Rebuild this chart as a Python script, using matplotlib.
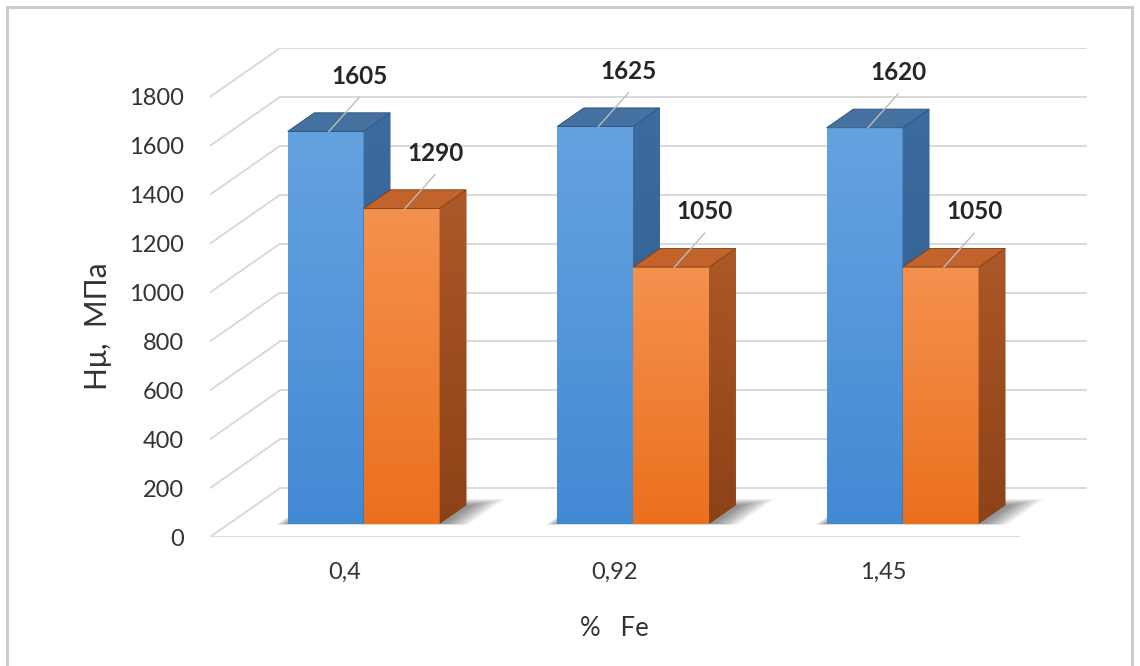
import numpy as np
import matplotlib
matplotlib.use("Agg")
import matplotlib.pyplot as plt
from matplotlib.patches import Polygon, Rectangle
from matplotlib.colors import LinearSegmentedColormap

# ---- data -------------------------------------------------------------
categories = ["0,4", "0,92", "1,45"]
series_a = [1605, 1625, 1620]
series_b = [1290, 1050, 1050]
y_ticks = [0, 200, 400, 600, 800, 1000, 1200, 1400, 1600, 1800]
y_label = "Hμ,  МПа"
x_label = "%   Fe"

# ---- look -------------------------------------------------------------
plt.rcParams["font.family"] = ["Lato", "Open Sans", "DejaVu Sans"]

DX = 0.26      # horizontal shift of the full floor depth (category units)
DV = 200.0     # vertical shift of the full floor depth (value units)
F0, F1 = 0.27, 0.65   # depth span occupied by the columns
W = 0.282      # column width

GRID = "#d9d9d9"
TXT = "#333333"

styles = [
    dict(front=("#4289d4", "#65a3e0"), side=("#2c5a8c", "#3c6c9f"), top="#44719f",
         edge="#2a4f78"),
    dict(front=("#eb701d", "#f4914f"), side=("#8c4217", "#ad5828"), top="#c2632c",
         edge="#7a3a12"),
]


def proj(x, v, f):
    """Oblique projection of a point at depth fraction f onto the axes."""
    return (x + f * DX, v + f * DV)


fig = plt.figure(figsize=(11.4, 6.66), dpi=100)
ax = fig.add_axes([210 / 1140, (666 - 537) / 666, 877 / 1140, 489 / 666])
ax.set_facecolor("none")
for s in ax.spines.values():
    s.set_visible(False)

n = len(categories)
x_pos = np.arange(n)

# back wall and side wall gridlines, floor edge
for t in y_ticks:
    ax.plot([-0.5, -0.5 + DX], [t, t + DV], color=GRID, lw=1.4, zorder=1)
    ax.plot([-0.5 + DX, n - 0.5 + DX], [t + DV, t + DV], color=GRID, lw=1.4, zorder=1)
ax.plot([-0.5, n - 0.5], [0, 0], color=GRID, lw=1.4, zorder=1)

grad = np.linspace(0, 1, 256).reshape(-1, 1)

# soft floor shadow under each pair of columns
for i in range(n):
    gl = x_pos[i] - W
    gr = x_pos[i] + W
    for k in range(14):
        e = 0.005 * k
        shadow = Polygon([proj(gl - e * 0.6, 0, F0 - e * 0.3),
                          proj(gr + 0.02 + e * 1.4, 0, F0 - e * 0.3),
                          proj(gr + 0.02 + e * 1.4, 0, F1 + e * 2.0),
                          proj(gl - e * 0.6, 0, F1 + e * 2.0)],
                         closed=True, facecolor="black", edgecolor="none",
                         alpha=0.035, zorder=2)
        ax.add_patch(shadow)

# columns
for i in range(n):
    for s_idx, (vals, off) in enumerate([(series_a, -W), (series_b, 0.0)]):
        st = styles[s_idx]
        v = vals[i]
        xl = x_pos[i] + off
        xr = xl + W
        z = 4 + i * 0.1 + s_idx * 0.05

        bar = ax.bar(xl + F0 * DX, v, width=W, bottom=F0 * DV, align="edge",
                     color=st["front"][0], edgecolor="none", zorder=z)[0]
        cm_front = LinearSegmentedColormap.from_list("f", list(st["front"]))
        im = ax.imshow(grad, extent=(xl + F0 * DX, xr + F0 * DX, F0 * DV, F0 * DV + v),
                       origin="lower", cmap=cm_front, aspect="auto", zorder=z,
                       interpolation="bilinear")
        im.set_clip_path(bar)

        side = Polygon([proj(xr, 0, F0), proj(xr, 0, F1), proj(xr, v, F1), proj(xr, v, F0)],
                       closed=True, facecolor=st["side"][0], edgecolor="none", zorder=z)
        ax.add_patch(side)
        cm_side = LinearSegmentedColormap.from_list("s", list(st["side"]))
        sx0, _ = proj(xr, 0, F0)
        sx1, _ = proj(xr, 0, F1)
        im2 = ax.imshow(grad, extent=(sx0, sx1, F0 * DV, F1 * DV + v), origin="lower",
                        cmap=cm_side, aspect="auto", zorder=z, interpolation="bilinear")
        im2.set_clip_path(side)

        top = Polygon([proj(xl, v, F0), proj(xr, v, F0), proj(xr, v, F1), proj(xl, v, F1)],
                      closed=True, facecolor=st["top"], edgecolor=st["edge"], lw=0.6,
                      zorder=z + 0.01)
        ax.add_patch(top)

        # value label with leader line
        cx = xl + W / 2
        lx, ly = cx + F1 * DX + 0.025, v + 280
        ax.plot([lx, cx + F0 * DX + 0.012], [ly - 88, v + F0 * DV],
                color="#bdbdbd", lw=1.0, zorder=5)
        ax.text(lx, ly, str(v), ha="center", va="center", fontsize=17.5,
                fontweight="bold", color="#262626", zorder=6)

ax.set_xlim(-0.5, -0.5 + 877 / 269.5)
ax.set_ylim(0, 2000)

ax.set_yticks(y_ticks)
ax.set_yticklabels([str(t) for t in y_ticks])
ax.tick_params(axis="y", length=0, pad=19, labelsize=17, labelcolor=TXT)
ax.set_xticks(x_pos)
ax.set_xticklabels(categories)
ax.tick_params(axis="x", length=0, pad=18, labelsize=17, labelcolor=TXT)

ax.set_ylabel(y_label, fontsize=21.5, color=TXT)
ax.yaxis.set_label_coords((98 - 210) / 877, (537 - 326) / 489)
ax.yaxis.label.set_verticalalignment("center")
ax.set_xlabel(x_label, fontsize=18.5, color=TXT)
ax.xaxis.set_label_coords((614 - 210) / 877, (537 - 628) / 489)
ax.xaxis.label.set_verticalalignment("center")

# chart frame
fig.add_artist(Rectangle((7 / 1140, -0.02), 1125 / 1140, 1 - 7 / 666 + 0.02,
                         transform=fig.transFigure, fill=False,
                         edgecolor="#c8c8c8", lw=2))

fig.savefig("out.png", dpi=100)
